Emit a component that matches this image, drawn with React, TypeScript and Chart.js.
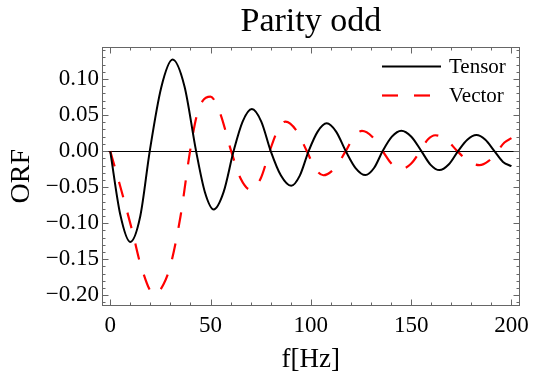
import React, { useEffect, useRef } from 'react';
import { Chart, registerables } from 'chart.js';
Chart.register(...registerables);

const titleText = 'Parity odd';
const xTitle = 'f[Hz]';
const yTitle = 'ORF';
const seriesLabels = ['Tensor', 'Vector'];

const tensorF = [0, 5, 10, 15, 19.7, 25.4, 31.1, 37, 42.8, 47.2, 51.6, 56.5, 61.5, 66, 70.6, 75.3, 80, 85.1, 90.2, 94.5, 98.9, 103.4, 107.9, 112.6, 117.4, 122.3, 127.2, 131.5, 135.8, 140.4, 145.1, 150.1, 155.1, 159.6, 164.1, 168.7, 173.4, 178, 182.5, 187, 191.5, 195.8, 200];
const tensorV = [0, -0.088, -0.126, -0.09, 0, 0.088, 0.127, 0.09, 0, -0.057, -0.081, -0.057, 0, 0.041, 0.0583, 0.041, 0, -0.034, -0.0482, -0.034, 0, 0.027, 0.0385, 0.027, 0, -0.0235, -0.0333, -0.0235, 0, 0.02, 0.0282, 0.02, 0, -0.0187, -0.0264, -0.0187, 0, 0.0157, 0.0222, 0.0157, 0, -0.015, -0.021];

const vectorF = [0, 4.6, 11.1, 15.2, 22, 26.7, 30.1, 35, 39.8, 43.1, 45.9, 50, 54.7, 60.3, 65, 70.2, 75, 79.5, 83.5, 87.4, 92.7, 98, 102.1, 106.2, 111.8, 117.4, 121.5, 125.5, 130.6, 135.8, 140.4, 145, 149.8, 154.5, 158.3, 162, 167.5, 173, 178.5, 184, 188.5, 193, 196.5, 200];
const vectorV = [0, -0.045, -0.112, -0.158, -0.199, -0.184, -0.158, -0.091, 0, 0.049, 0.069, 0.0755, 0.053, 0, -0.038, -0.054, -0.038, 0, 0.029, 0.041, 0.029, 0, -0.024, -0.0335, -0.024, 0, 0.02, 0.028, 0.02, 0, -0.018, -0.025, -0.018, 0, 0.016, 0.022, 0.016, 0, -0.014, -0.0195, -0.014, 0, 0.012, 0.018];

const xTickValues = [0, 50, 100, 150, 200];
const xTickLabels = ['0', '50', '100', '150', '200'];
const yTickValues = [-0.2, -0.15, -0.1, -0.05, 0, 0.05, 0.1];
const yTickLabels = ['\u22120.20', '\u22120.15', '\u22120.10', '\u22120.05', '0.00', '0.05', '0.10'];

const FONT = "'Liberation Serif', 'DejaVu Serif', serif";
const FRAME = '#666666';

const framePlugin = {
  id: 'mmaFrame',
  beforeDatasetsDraw(chart: any) {
    const { ctx, chartArea: a, scales } = chart;
    const y0 = Math.round(scales.y.getPixelForValue(0)) + 0.5;
    ctx.save();
    ctx.strokeStyle = '#000';
    ctx.lineWidth = 1;
    ctx.beginPath();
    ctx.moveTo(a.left, y0);
    ctx.lineTo(a.right, y0);
    ctx.stroke();
    ctx.restore();
  },
  afterDatasetsDraw(chart: any) {
    const { ctx, chartArea: a, scales } = chart;
    const xs = scales.x;
    const ys = scales.y;
    ctx.save();
    ctx.strokeStyle = FRAME;
    ctx.lineWidth = 1;
    const L = Math.round(a.left) + 0.5;
    const R = Math.round(a.right) - 0.5;
    const T = Math.round(a.top) + 0.5;
    const B = Math.round(a.bottom) - 0.5;
    ctx.strokeRect(L, T, R - L, B - T);
    const major = 6;
    const minor = 3;
    ctx.beginPath();
    for (let v = 0; v <= 200; v += 10) {
      const isMajor = xTickValues.includes(v);
      const len = isMajor ? major : minor;
      const px = Math.round(xs.getPixelForValue(v)) + 0.5;
      ctx.moveTo(px, B);
      ctx.lineTo(px, B - len);
      ctx.moveTo(px, T);
      ctx.lineTo(px, T + len);
    }
    for (let i = -21; i <= 14; i++) {
      const v = i / 100;
      const isMajor = i % 5 === 0;
      const len = isMajor ? major : minor;
      const py = Math.round(ys.getPixelForValue(v)) + 0.5;
      ctx.moveTo(L, py);
      ctx.lineTo(L + len, py);
      ctx.moveTo(R, py);
      ctx.lineTo(R - len, py);
    }
    ctx.stroke();

    // legend
    const ds = chart.data.datasets;
    const lx0 = 382;
    const lx1 = 441;
    const rows = [66.5, 95.5];
    ctx.font = `21px ${FONT}`;
    ctx.textBaseline = 'middle';
    ctx.textAlign = 'left';
    ds.forEach((d: any, i: number) => {
      const y = rows[i];
      ctx.save();
      ctx.strokeStyle = d.borderColor;
      ctx.lineWidth = d.borderWidth;
      ctx.setLineDash(d.borderDash || []);
      ctx.beginPath();
      ctx.moveTo(lx0, y);
      ctx.lineTo(lx1, y);
      ctx.stroke();
      ctx.restore();
      ctx.fillStyle = '#000';
      ctx.fillText(d.label, 449, y + 1);
    });
    ctx.restore();
  },
};

export default function App() {
  const ref = useRef<HTMLCanvasElement | null>(null);
  useEffect(() => {
    if (!ref.current) return;
    const chart = new Chart(ref.current, {
      type: 'line',
      data: {
        datasets: [
          {
            label: seriesLabels[0],
            data: tensorF.map((f, i) => ({ x: f, y: tensorV[i] })),
            borderColor: '#000000',
            borderWidth: 2,
            pointRadius: 0,
            cubicInterpolationMode: 'monotone',
            fill: false,
          },
          {
            label: seriesLabels[1],
            data: vectorF.map((f, i) => ({ x: f, y: vectorV[i] })),
            borderColor: '#ff0000',
            borderWidth: 2.2,
            borderDash: [16, 16],
            pointRadius: 0,
            cubicInterpolationMode: 'monotone',
            fill: false,
          },
        ],
      },
      options: {
        animation: false,
        responsive: false,
        devicePixelRatio: 1,
        layout: { padding: { left: 0, right: 9, top: 0, bottom: 0 } },
        plugins: {
          legend: { display: false },
          tooltip: { enabled: false },
          title: {
            display: true,
            text: titleText,
            fullSize: false,
            color: '#000',
            font: { family: FONT, size: 34, weight: 'normal', lineHeight: 1.2 },
            padding: { top: 2, bottom: 3.7 },
          },
        },
        scales: {
          x: {
            type: 'linear',
            min: -4.1,
            max: 204.1,
            grid: { display: false, drawTicks: false },
            border: { display: false },
            afterBuildTicks: (s: any) => {
              s.ticks = xTickValues.map((v) => ({ value: v }));
            },
            afterFit: (s: any) => {
              s.height = 67;
            },
            ticks: {
              color: '#000',
              padding: 6,
              maxRotation: 0,
              font: { family: FONT, size: 23, lineHeight: 1.2 },
              callback: (v: any) => {
                const i = xTickValues.indexOf(Number(v));
                return i >= 0 ? xTickLabels[i] : '';
              },
            },
            title: {
              display: true,
              text: xTitle,
              color: '#000',
              font: { family: FONT, size: 27, lineHeight: 1 },
              padding: { top: 0, bottom: 0 },
            },
          },
          y: {
            type: 'linear',
            min: -0.2149,
            max: 0.1451,
            grid: { display: false, drawTicks: false },
            border: { display: false },
            afterBuildTicks: (s: any) => {
              s.ticks = yTickValues.map((v) => ({ value: v }));
            },
            afterFit: (s: any) => {
              s.width = 102;
            },
            ticks: {
              color: '#000',
              padding: 3,
              font: { family: FONT, size: 23 },
              callback: (v: any) => {
                const i = yTickValues.findIndex((t) => Math.abs(t - Number(v)) < 1e-9);
                return i >= 0 ? yTickLabels[i] : '';
              },
            },
            title: {
              display: true,
              text: yTitle,
              color: '#000',
              font: { family: FONT, size: 28, lineHeight: 1.2 },
              padding: { top: 5, bottom: 0 },
            },
          },
        },
      },
      plugins: [framePlugin],
    } as any);
    return () => chart.destroy();
  }, []);
  return (
    <div style={{ position: 'fixed', left: 0, top: 0, width: 535, height: 373, background: '#fff' }}>
      <canvas ref={ref} width={535} height={373} style={{ width: 535, height: 373, display: 'block' }} />
    </div>
  );
}
